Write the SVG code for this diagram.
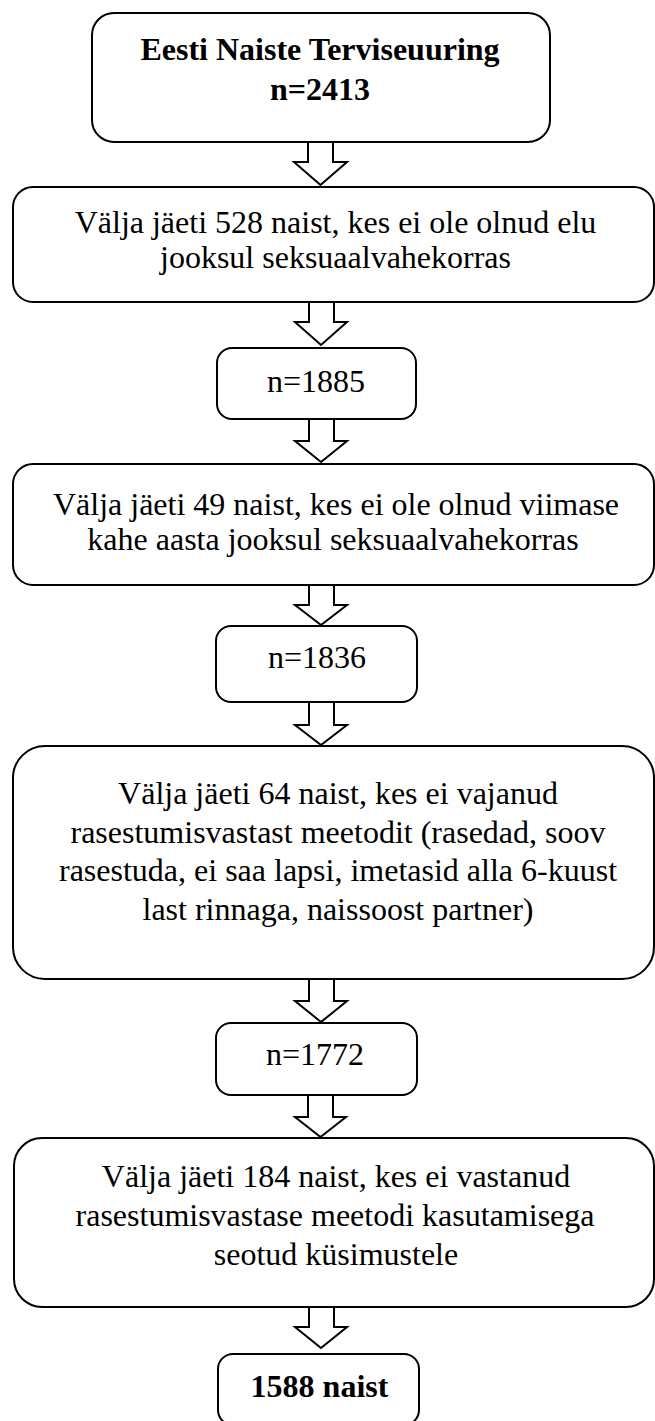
<svg xmlns="http://www.w3.org/2000/svg" width="655" height="1421" viewBox="0 0 655 1421">
<style>
.box{fill:#fff;stroke:#000;stroke-width:2}
.arr{fill:#fff;stroke:#000;stroke-width:2;stroke-linejoin:miter}
text{font-family:"Liberation Serif","Times New Roman",serif;font-size:32px;fill:#000;text-anchor:middle}
.b{font-weight:bold}
</style>
<rect width="655" height="1421" fill="#fff"/>
<g id="connectors">
<polygon class="arr" points="308,142 333,142 333,162 347,162 320.5,185 294,162 308,162"/>
<polygon class="arr" points="309,302 334,302 334,322 347,322 321,345 295,322 309,322"/>
<polygon class="arr" points="309,419 334,419 334,441 347,441 321,462 295,441 309,441"/>
<polygon class="arr" points="309,585 334,585 334,605 347,605 321,625 295,605 309,605"/>
<polygon class="arr" points="309,702 334,702 334,725 347,725 321,745 295,725 309,725"/>
<polygon class="arr" points="309,979 334,979 334,1001 347,1001 321,1022 295,1001 309,1001"/>
<polygon class="arr" points="308,1095 333,1095 333,1117 346,1117 320.5,1137 295,1117 308,1117"/>
<polygon class="arr" points="309,1307 334,1307 334,1327 347,1327 321,1348 295,1327 309,1327"/>
</g>
<g id="n1">
<rect class="box" x="92" y="13" width="458" height="129" rx="22"/>
<text class="b" x="320" y="60">Eesti Naiste Terviseuuring</text>
<text class="b" x="320" y="100">n=2413</text>
</g>
<g id="n2">
<rect class="box" x="13" y="187" width="641" height="115" rx="20"/>
<text x="335.5" y="233">Välja jäeti 528 naist, kes ei ole olnud elu</text>
<text x="335.5" y="268">jooksul seksuaalvahekorras</text>
</g>
<g id="n3">
<rect class="box" x="217" y="348" width="199" height="71" rx="15"/>
<text x="316" y="392">n=1885</text>
</g>
<g id="n4">
<rect class="box" x="13" y="464" width="641" height="121" rx="20"/>
<text x="336" y="515">Välja jäeti 49 naist, kes ei ole olnud viimase</text>
<text x="333" y="550">kahe aasta jooksul seksuaalvahekorras</text>
</g>
<g id="n5">
<rect class="box" x="216" y="626" width="201" height="76" rx="15"/>
<text x="317" y="668">n=1836</text>
</g>
<g id="n6">
<rect class="box" x="13" y="746" width="641" height="233" rx="32"/>
<text x="338" y="804">Välja jäeti 64 naist, kes ei vajanud</text>
<text x="338" y="842.5">rasestumisvastast meetodit (rasedad, soov</text>
<text x="338" y="881">rasestuda, ei saa lapsi, imetasid alla 6-kuust</text>
<text x="338" y="919.5">last rinnaga, naissoost partner)</text>
</g>
<g id="n7">
<rect class="box" x="216" y="1023" width="201" height="72" rx="15"/>
<text x="315" y="1065">n=1772</text>
</g>
<g id="n8">
<rect class="box" x="14" y="1138" width="640" height="169" rx="28"/>
<text x="336" y="1186.5">Välja jäeti 184 naist, kes ei vastanud</text>
<text x="335" y="1226">rasestumisvastase meetodi kasutamisega</text>
<text x="336" y="1264.5">seotud küsimustele</text>
</g>
<g id="n9">
<rect class="box" x="218" y="1354" width="201" height="71" rx="15"/>
<text class="b" x="319.5" y="1397">1588 naist</text>
</g>
</svg>
